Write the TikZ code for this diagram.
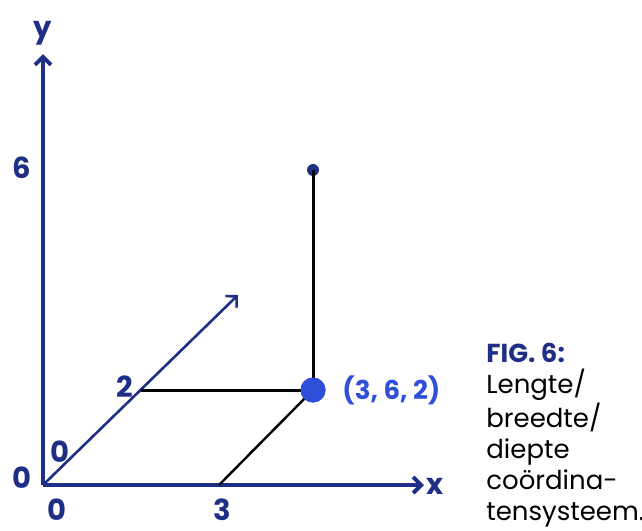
\documentclass[tikz,border=0pt]{standalone}
\usepackage{fontspec}
\setmainfont{Poppins}
\usetikzlibrary{arrows.meta}

\definecolor{navy}{HTML}{1F2E86}
\definecolor{punt}{HTML}{2F4FD8}

\begin{document}
\begin{tikzpicture}[x=0.5pt, y=-0.5pt, >={Straight Barb[length=4pt,width=8pt]},
  as/.style={draw=navy, line width=2pt},
  lbl/.style={text=navy, font=\fontsize{14.5}{16}\selectfont\bfseries, inner sep=0pt},
  hulp/.style={draw=black, line width=1.5pt}]
\useasboundingbox (0,0) rectangle (642,530);
% assen
\coordinate (O) at (43,485);
\coordinate (Ytop) at (43,54);
\coordinate (Xend) at (424,485);
\coordinate (Zend) at (238,295);
\draw[as, ->] (O) -- (Xend);
\draw[as, ->] (O) -- (Ytop);
\draw[draw=navy, line width=1.3pt, ->] (O) -- (Zend);
\node[lbl] (ylab) at (43,33) {y};
\node[lbl] (xlab) at (435,486) {x};
% schaalwaarden
\node[lbl] (o1) at (22,478) {0};
\node[lbl] (o2) at (57,510) {0};
\node[lbl] (o3) at (60,452) {0};
\node[lbl] (drie) at (222,510) {3};
\node[lbl] (zes) at (22,168) {6};
\node[lbl] (twee) at (125,387) {2};
% punt (3,6,2)
\coordinate (Z2) at (141,390);
\coordinate (X3) at (219,485);
\node[circle, fill=punt, minimum size=12.5pt, inner sep=0pt] (P) at (313,390) {};
\node[circle, fill=navy, minimum size=6pt, inner sep=0pt] (Ptop) at (313,170) {};
\draw[hulp] (Z2) -- (P.center);
\draw[hulp, line width=1.2pt] (X3) -- (P.center);
\draw[hulp] (P.center) -- (Ptop.center);
\node[circle, fill=punt, minimum size=12.5pt, inner sep=0pt] at (P) {};
\node[anchor=west, text=punt, font=\fontsize{13}{15}\selectfont\bfseries, inner sep=0pt] (Plab) at (342,390) {(3, 6, 2)};
% bijschrift
\node[anchor=north west, align=left, inner sep=0pt, font=\fontsize{13}{15.5}\selectfont] (cap) at (486,343)
  {\textcolor{navy}{\bfseries FIG. 6:}\\Lengte/\\breedte/\\diepte\\coördina-\\tensysteem.};
\end{tikzpicture}
\end{document}
